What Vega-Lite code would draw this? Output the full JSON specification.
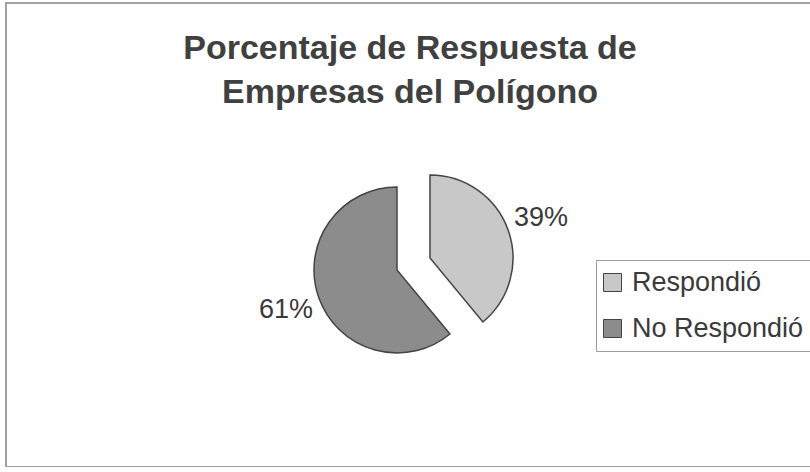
{
  "$schema": "https://vega.github.io/schema/vega-lite/v6.json",
  "autosize": {"type": "none"},
  "padding": {"left": 6, "top": 3, "right": 0, "bottom": 0},
  "width": 808,
  "height": 464,
  "background": "white",
  "view": {"stroke": "#a0a0a0", "strokeWidth": 2},
  "title": {
    "text": ["Porcentaje de Respuesta de", "Empresas del Polígono"],
    "font": "Liberation Sans",
    "fontSize": 34,
    "fontWeight": "bold",
    "color": "#404040",
    "lineHeight": 44,
    "anchor": "middle",
    "frame": "group",
    "baseline": "top",
    "offset": -107
  },
  "config": {
    "view": {"stroke": "#a0a0a0", "strokeWidth": 2},
    "text": {"font": "Liberation Sans"}
  },
  "data": {
    "values": [
      {"respuesta": "Respondió", "porcentaje": 0.39},
      {"respuesta": "No Respondió", "porcentaje": 0.61}
    ]
  },
  "encoding": {
    "theta": {"field": "porcentaje", "type": "quantitative", "stack": true},
    "order": {"field": "porcentaje", "sort": "ascending"},
    "color": {
      "field": "respuesta",
      "type": "nominal",
      "scale": {"domain": ["Respondió", "No Respondió"], "range": ["#c8c8c8", "#8c8c8c"]},
      "legend": {
        "title": null,
        "orient": "none",
        "legendX": 590,
        "legendY": 257,
        "strokeColor": "#9a9a9a",
        "padding": 9,
        "symbolType": "square",
        "symbolSize": 324,
        "symbolOffset": -6,
        "symbolStrokeColor": "#444",
        "symbolStrokeWidth": 1,
        "symbolOpacity": 1,
        "labelFont": "Liberation Sans",
        "labelFontSize": 27,
        "labelColor": "#3a3a3a",
        "labelOffset": 6,
        "rowPadding": 18,
        "labelLimit": 400
      }
    }
  },
  "layer": [
    {
      "mark": {
        "type": "arc",
        "radius": 83,
        "stroke": "#444444",
        "strokeWidth": 1.5,
        "x": {"expr": "width/2 - 13"},
        "y": {"expr": "height/2 + 35"},
        "xOffset": {"expr": "datum.respuesta == 'Respondió' ? 33 : 0"},
        "yOffset": {"expr": "datum.respuesta == 'Respondió' ? -12 : 0"}
      }
    },
    {
      "mark": {
        "type": "text",
        "radius": 118,
        "fontSize": 27,
        "color": "#3a3a3a",
        "align": "center",
        "baseline": "middle",
        "x": {"expr": "width/2 - 13"},
        "y": {"expr": "height/2 + 35"},
        "xOffset": {"expr": "datum.respuesta == 'Respondió' ? 33 : 0"},
        "yOffset": {"expr": "datum.respuesta == 'Respondió' ? -12 : 0"}
      },
      "encoding": {
        "text": {"field": "porcentaje", "type": "quantitative", "format": ".0%"},
        "color": {"value": "#3a3a3a"}
      }
    }
  ]
}
